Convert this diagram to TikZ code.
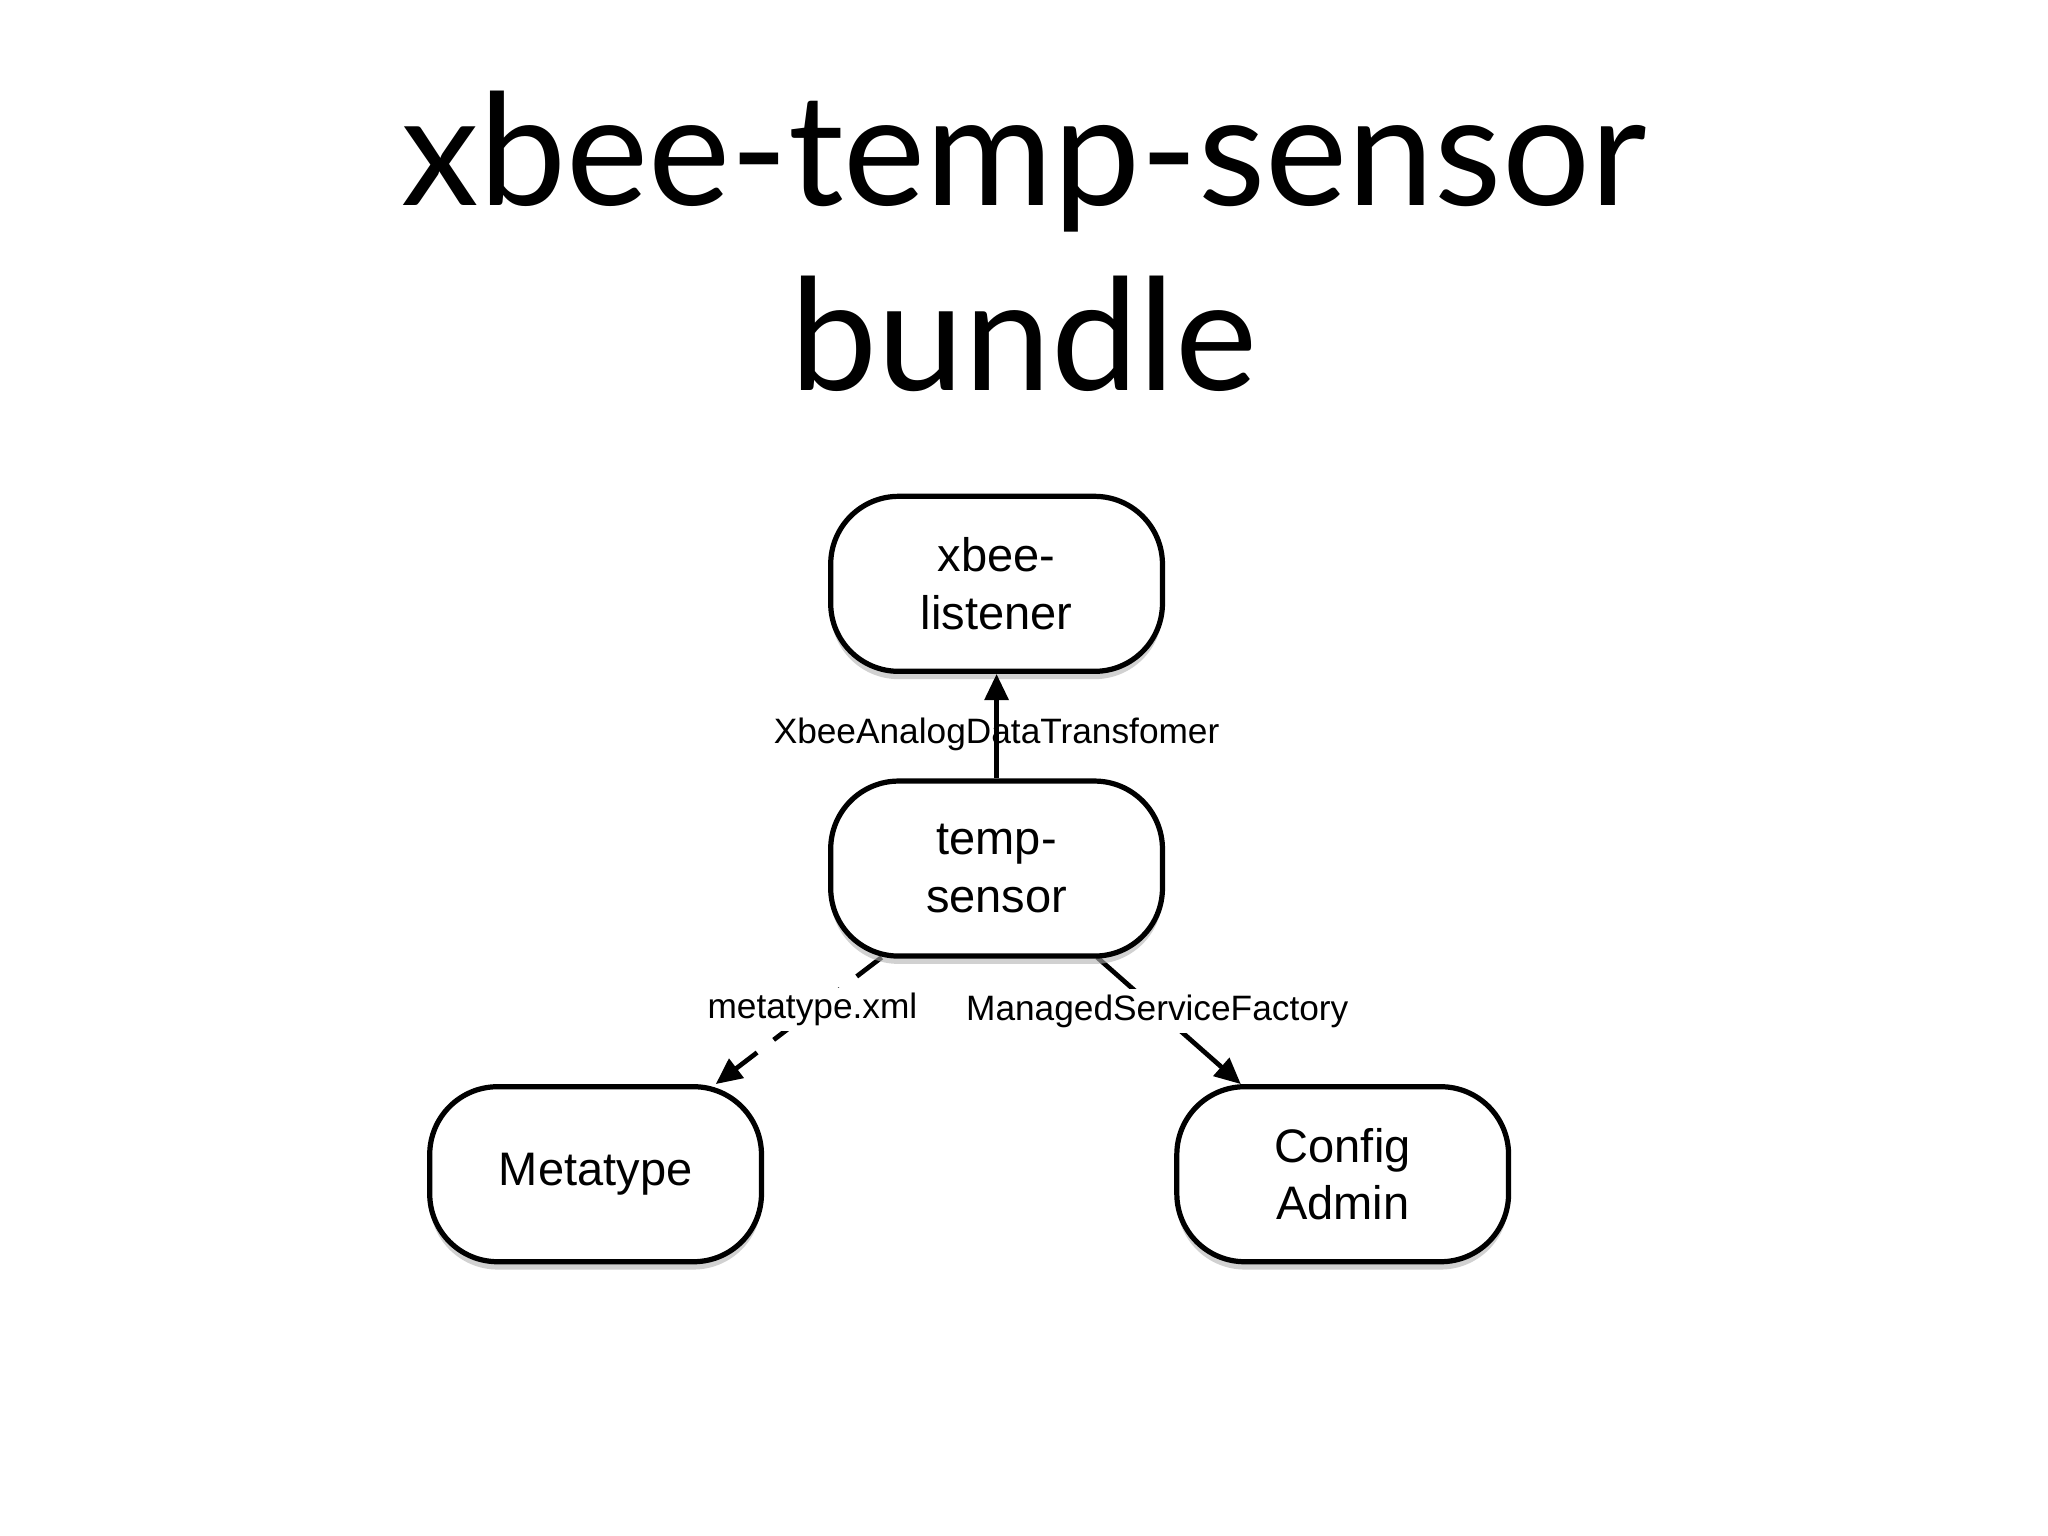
\documentclass[tikz,border=0pt]{standalone}
\usepackage{fontspec}
\setmainfont{Liberation Sans}
\newfontfamily\titlefont{Lato}
\usetikzlibrary{arrows.meta,shadows}
\begin{document}
\begin{tikzpicture}[x=0.5pt,y=-0.5pt,
  box/.style={draw,line width=2pt,rounded corners=26pt,minimum width=127pt,minimum height=67pt,align=center,font=\fontsize{18}{22}\selectfont,fill=white,
    drop shadow={shadow xshift=0pt,shadow yshift=-3pt,fill=black!30,opacity=0.6}},
  lab/.style={font=\fontsize{13.5}{15}\selectfont,fill=white,inner sep=2pt},
  arr/.style={line width=1.8pt,-{Triangle[length=10pt,width=9pt]}}]
\useasboundingbox (0,0) rectangle (1568,1176);
\node[font=\titlefont\fontsize{59.5}{71}\selectfont,align=center] (title) at (784,185) {xbee-temp-sensor\\bundle};
\coordinate (d1) at (675,733);
\coordinate (d2) at (840,733);
\coordinate (e1) at (548,830);
\coordinate (e2) at (950,830);
\draw[arr,dash pattern=on 12pt off 8pt] (d1) -- (e1);
\draw[arr] (d2) -- (e2);
\node[box] (xl) at (763,447) {xbee-\\listener};
\node[box] (ts) at (763,665) {temp-\\sensor};
\node[box] (mt) at (456,899) {Metatype};
\node[box] (ca) at (1028,899) {Config\\Admin};
\draw[arr] (ts.north) -- (xl.south);
\node[font=\fontsize{13.5}{15}\selectfont] (l1) at (763,562) {XbeeAnalogDataTransfomer};
\node[lab] (l2) at (622,773) {metatype.xml};
\node[lab] (l3) at (886,774) {ManagedServiceFactory};
\end{tikzpicture}
\end{document}
